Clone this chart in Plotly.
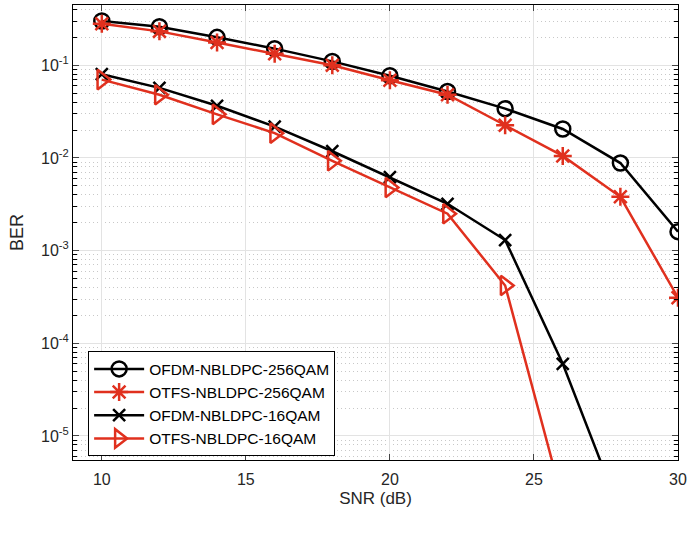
import plotly.graph_objects as go

snr = [10, 12, 14, 16, 18, 20, 22, 24, 26, 28, 30]
ofdm_256 = [0.30, 0.26, 0.20, 0.151, 0.11, 0.077, 0.052, 0.034, 0.0205, 0.0088, 0.0016]
otfs_256 = [0.28, 0.232, 0.176, 0.133, 0.10, 0.069, 0.048, 0.0225, 0.0105, 0.0038, 0.00031]
snr_16 = [10, 12, 14, 16, 18, 20, 22, 24, 26, 28]
ofdm_16 = [0.080, 0.057, 0.0365, 0.0218, 0.0118, 0.0062, 0.0032, 0.0013, 6.0e-5, 1.5e-6]
snr_16b = [10, 12, 14, 16, 18, 20, 22, 24, 26]
otfs_16 = [0.070, 0.048, 0.0295, 0.0185, 0.0093, 0.0048, 0.0025, 4.2e-4, 2.0e-6]

names = ["OFDM-NBLDPC-256QAM", "OTFS-NBLDPC-256QAM", "OFDM-NBLDPC-16QAM", "OTFS-NBLDPC-16QAM"]
ytickvals = [1e-5, 1e-4, 1e-3, 1e-2, 1e-1]
yticktext = ["10<sup>-5</sup>", "10<sup>-4</sup>", "10<sup>-3</sup>", "10<sup>-2</sup>", "10<sup>-1</sup>"]

RED = "#e0301e"
BLK = "#000000"

fig = go.Figure()
fig.add_trace(go.Scatter(x=snr, y=ofdm_256, name=names[0], mode="lines+markers",
                         line=dict(color=BLK, width=2.5),
                         marker=dict(symbol="circle-open", size=15, color=BLK, line=dict(width=2.5, color=BLK))))
fig.add_trace(go.Scatter(x=snr, y=otfs_256, name=names[1], mode="lines+markers",
                         line=dict(color=RED, width=2.5),
                         marker=dict(symbol="asterisk-open", size=15, color=RED, line=dict(width=2.5, color=RED))))
fig.add_trace(go.Scatter(x=snr_16, y=ofdm_16, name=names[2], mode="lines+markers",
                         line=dict(color=BLK, width=2.5),
                         marker=dict(symbol="x-thin-open", size=12, color=BLK, line=dict(width=2.5, color=BLK))))
fig.add_trace(go.Scatter(x=snr_16b, y=otfs_16, name=names[3], mode="lines+markers",
                         line=dict(color=RED, width=2.5),
                         marker=dict(symbol="triangle-right-open", size=17, color=RED, line=dict(width=2.5, color=RED))))

axis_font = dict(family="Liberation Sans, Arial, sans-serif", size=16, color="#262626")

fig.update_layout(
    width=690, height=548,
    paper_bgcolor="white", plot_bgcolor="white",
    margin=dict(l=73, r=12, t=5, b=88, autoexpand=False),
    font=dict(family="Liberation Sans, Arial, sans-serif", size=16, color="#262626"),
    legend=dict(x=0.025, y=0.008, xanchor="left", yanchor="bottom",
                bgcolor="white", bordercolor="black", borderwidth=1,
                font=dict(size=15.5, color="black"), tracegroupgap=0, itemwidth=50),
    showlegend=True,
)
fig.update_xaxes(
    range=[9, 30], tickvals=[10, 15, 20, 25, 30], ticks="inside", ticklen=6,
    showline=True, linecolor="black", linewidth=1, mirror="ticks",
    showgrid=True, gridcolor="#e3e3e3", gridwidth=1, zeroline=False,
    ticklabelstandoff=5,
    title=dict(text="SNR (dB)", font=dict(size=17, color="#262626"), standoff=4),
    tickfont=axis_font,
)
fig.update_yaxes(
    type="log", range=[-5.26, -0.35], tickvals=ytickvals, ticktext=yticktext,
    ticks="inside", ticklen=6, showline=True, linecolor="black", linewidth=1, mirror="ticks",
    showgrid=True, gridcolor="#e3e3e3", gridwidth=1, zeroline=False,
    minor=dict(dtick="D1", ticks="inside", ticklen=4, tickcolor="black",
               showgrid=True, gridcolor="#c8c8c8", griddash="1px,3px", gridwidth=1),
    title=dict(text="BER", font=dict(size=18, color="#262626"), standoff=12),
    tickfont=axis_font,
)

fig.write_html("out.html", config={"displayModeBar": False},
               post_script="document.body.style.margin='0px';document.body.style.padding='0px';")
